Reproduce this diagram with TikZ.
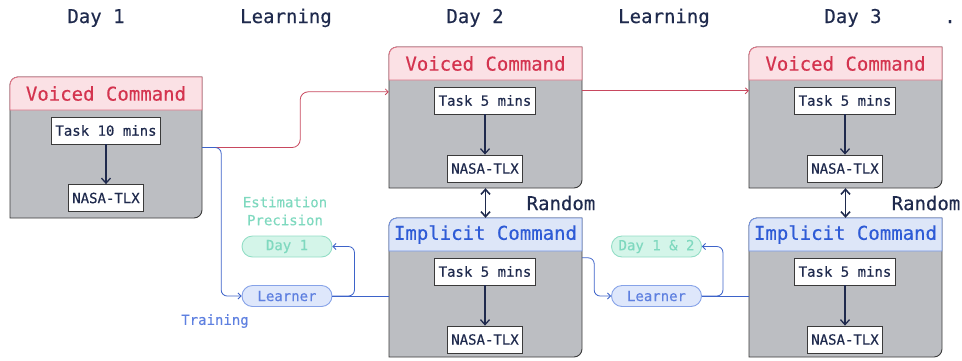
\documentclass[tikz,border=0pt]{standalone}
\usepackage{fontspec}
\setmainfont[FakeBold=0.35]{DejaVu Sans Mono}
\usetikzlibrary{arrows.meta,fit}

\definecolor{navy}{HTML}{1F2A4D}
\definecolor{redtxt}{HTML}{D4344F}
\definecolor{redfill}{HTML}{FBE1E5}
\definecolor{rededge}{HTML}{DE7385}
\definecolor{redwire}{HTML}{C8485E}
\definecolor{bluetxt}{HTML}{2E5BD6}
\definecolor{bluefill}{HTML}{DDE6F8}
\definecolor{blueedge}{HTML}{7393E2}
\definecolor{bluewire}{HTML}{3D63C9}
\definecolor{bodyfill}{HTML}{BCBEC2}
\definecolor{bodyedge}{HTML}{3A3A3A}
\definecolor{tealtxt}{HTML}{7FD9BF}
\definecolor{tealfill}{HTML}{D4F5E9}
\definecolor{tealedge}{HTML}{93DEC6}
\definecolor{learntxt}{HTML}{5E80E0}
\definecolor{learnfill}{HTML}{DEE7FB}
\definecolor{learnedge}{HTML}{86A2E8}

\tikzset{
  bodypart/.style={fill=bodyfill, draw=bodyedge, line width=0.9pt},
  redhead/.style={fill=redfill, draw=rededge, line width=0.9pt},
  bluehead/.style={fill=bluefill, draw=blueedge, line width=0.9pt},
  redtitle/.style={text=redtxt, font=\fontsize{19}{22}\selectfont, inner sep=0pt},
  bluetitle/.style={text=bluetxt, font=\fontsize{19}{22}\selectfont, inner sep=0pt},
  taskbox/.style={draw=bodyedge, fill=white, line width=0.8pt, text=navy,
    font=\fontsize{14}{16}\selectfont, inner xsep=4pt, minimum height=27pt},
  flow/.style={draw=navy, line width=1.3pt, -{Straight Barb[length=5pt,width=9pt]}},
  swap/.style={draw=navy, line width=1.6pt,
    {Straight Barb[length=5pt,width=9pt]}-{Straight Barb[length=5pt,width=9pt]}},
  toplabel/.style={text=navy, font=\fontsize{19}{22}\selectfont, anchor=base, inner sep=0pt},
  redwire/.style={draw=redwire, line width=0.8pt, rounded corners=8pt},
  bluewire/.style={draw=bluewire, line width=0.8pt, rounded corners=6pt},
  tip/.style={-{Straight Barb[length=3pt,width=6pt]}},
  pill/.style={rounded corners=10.5pt, minimum width=90pt, minimum height=21pt,
    line width=0.9pt, inner sep=0pt, font=\fontsize{14}{16}\selectfont},
  daypill/.style={pill, fill=tealfill, draw=tealedge, text=tealtxt},
  learnpill/.style={pill, fill=learnfill, draw=learnedge, text=learntxt},
  note/.style={font=\fontsize{14}{16}\selectfont, inner sep=0pt},
}

% #1 name, #2 left, #3 top, #4 right, #5 header bottom, #6 bottom,
% #7 colour scheme (red/blue), #8 title
\newcommand\drawpanel[8]{%
  \node[fit={(#2,#3) (#4,#6)}, inner sep=0pt] (#1) {};
  \filldraw[bodypart] (#2,#6) -- (#2,{#3+8}) arc (180:270:8) -- (#4,#3)
    -- (#4,{#6-8}) arc (0:90:8) -- cycle;
  \filldraw[#7head] (#2,#5) -- (#2,{#3+8}) arc (180:270:8) -- (#4,#3)
    -- (#4,#5) -- cycle;
  \node[#7title] (#1-title) at ({(#2+#4)/2},{(#3+#5)/2}) {#8};
}

\begin{document}
\begin{tikzpicture}[x=1pt, y=-1pt]
  \useasboundingbox (0,0) rectangle (962,360);

  % day headings
  \node[toplabel] (h1) at (96,23) {Day 1};
  \node[toplabel] (h2) at (286,23) {Learning};
  \node[toplabel] (h3) at (475,23) {Day 2};
  \node[toplabel] (h4) at (664,23) {Learning};
  \node[toplabel] (h5) at (853,23) {Day 3};
  \node[toplabel] (h6) at (950,23) {.};

  % panels
  \drawpanel{v1}{10}{77}{202}{110}{218}{red}{Voiced Command}
  \drawpanel{v2}{389}{47}{582}{80}{188}{red}{Voiced Command}
  \drawpanel{v3}{749}{47}{942}{80}{188}{red}{Voiced Command}
  \drawpanel{i2}{389}{218}{582}{251}{357}{blue}{Implicit Command}
  \drawpanel{i3}{749}{218}{942}{251}{357}{blue}{Implicit Command}

  % task / questionnaire boxes
  \node[taskbox] (t1) at (106,130.5) {Task 10 mins};
  \node[taskbox] (n1) at (106,198) {NASA-TLX};
  \node[taskbox] (t2) at (485,100.5) {Task 5 mins};
  \node[taskbox] (n2) at (485,168.5) {NASA-TLX};
  \node[taskbox] (t3) at (845,100.5) {Task 5 mins};
  \node[taskbox] (n3) at (845,168.5) {NASA-TLX};
  \node[taskbox] (t4) at (485,271.5) {Task 5 mins};
  \node[taskbox] (n4) at (485,339.5) {NASA-TLX};
  \node[taskbox] (t5) at (845,271.5) {Task 5 mins};
  \node[taskbox] (n5) at (845,339.5) {NASA-TLX};

  \draw[flow] (t1) -- (n1);
  \draw[flow] (t2) -- (n2);
  \draw[flow] (t3) -- (n3);
  \draw[flow] (t4) -- (n4);
  \draw[flow] (t5) -- (n5);

  % random order between conditions
  \draw[swap] (v2.south) -- (i2.north);
  \draw[swap] (v3.south) -- (i3.north);
  \node[text=navy, font=\fontsize{19}{22}\selectfont, inner sep=0pt] (r2) at (561,203) {Random};
  \node[text=navy, font=\fontsize{19}{22}\selectfont, inner sep=0pt] (r3) at (926,203) {Random};

  % learning stage pills
  \node[daypill] (d1) at (287,246.5) {Day 1};
  \node[learnpill] (l1) at (287,296) {Learner};
  \node[daypill] (d2) at (656.5,246.5) {Day 1 \& 2};
  \node[learnpill] (l2) at (656.5,296) {Learner};

  \node[note, text=tealtxt] (e1) at (285,202) {Estimation};
  \node[note, text=tealtxt] (e2) at (285,220) {Precision};
  \node[note, text=learntxt] (tr) at (215,321) {Training};

  % voiced command carried to the next day
  \draw[redwire, tip] (v1.east) -- ++(98,0) |- ([yshift=-45pt]v2.north west);
  \draw[redwire, tip] ([yshift=-44pt]v2.north east) -- ([yshift=-44pt]v3.north west);

  % training data into the learner
  \draw[bluewire, tip] (v1.east) -- ++(19,0) |- (l1.west);
  \draw[bluewire, tip] ([yshift=-40pt]i2.north east) -- ++(12,0) |- (l2.west);

  % learner estimates and implicit command
  \draw[bluewire, tip] (l1.east) -- ++(22,0) |- (d1.east);
  \draw[bluewire] (l1.east) -- (l1.east -| i2.west);
  \draw[bluewire, tip] (l2.east) -- ++(21,0) |- (d2.east);
  \draw[bluewire] (l2.east) -- (l2.east -| i3.west);
\end{tikzpicture}
\end{document}
